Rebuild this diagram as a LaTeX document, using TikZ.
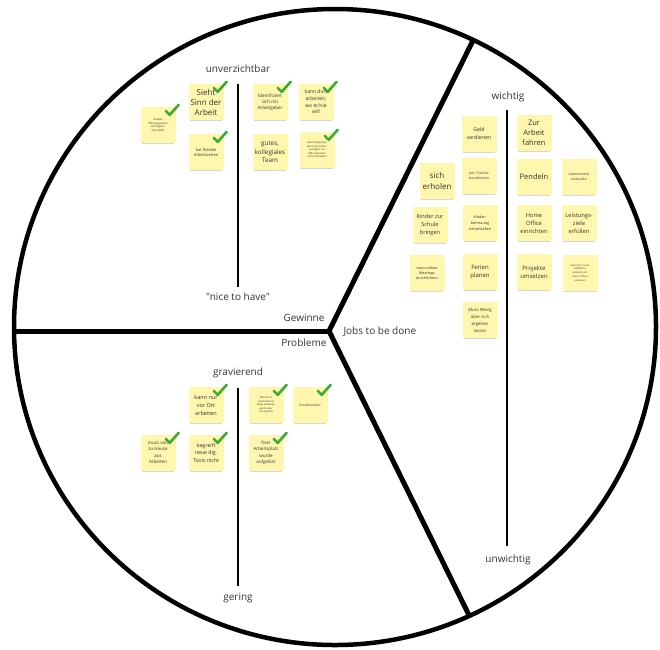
\documentclass[tikz,border=0pt]{standalone}
\usepackage{fontspec}
\setmainfont{Open Sans}[Ligatures=TeXOff]
\usetikzlibrary{shadows}
\definecolor{noteyellow}{HTML}{FFF7AE}
\definecolor{ink}{HTML}{333333}
\definecolor{okgreen}{HTML}{3DAA35}
% green tick in the upper right corner of a note
\newcommand\chk[1]{\draw[checkmark] ([shift={(-10,4)}]#1.north east) -- ++(4,4) -- ++(9,-10);}
\begin{document}
\begin{tikzpicture}[x=1pt,y=-1pt,
  note/.style={fill=noteyellow, minimum width=35pt, minimum height=36pt,
    inner sep=1pt, align=center, text=ink,
    general shadow={fill=black, opacity=0.16, shadow yshift=-3pt, shadow scale=0.92}},
  fs/.style 2 args={font=\fontsize{#1}{#2}\selectfont},
  lbl/.style={font=\fontsize{10}{12}\selectfont, text=ink},
  axis/.style={line width=1.3pt, black},
  rim/.style={line width=4.5pt, black},
  spoke/.style={line width=5pt, black},
  checkmark/.style={line width=2.6pt, okgreen, line cap=round, line join=round},
]
\useasboundingbox (0,0) rectangle (660,649);

% the circle and its three sectors
\coordinate (hub) at (329,331);
\begin{scope}
  \clip (335,327) ellipse [x radius=321, y radius=318];
  \draw[spoke] (hub) -- (0,331);
  \draw[spoke] (hub) -- (498,-10);
  \draw[spoke] (hub) -- (498,674);
\end{scope}
\draw[rim] (335,327) ellipse [x radius=321, y radius=318];

% sector titles
\node[lbl, anchor=east] (gew) at (328,318) {Gewinne};
\node[lbl, anchor=east] (prob) at (330,343) {Probleme};
\node[lbl, anchor=west] (jobs) at (340,332) {Jobs to be done};

% axes
\node[lbl] (unv) at (238,69) {unverzichtbar};
\node[lbl] (nice) at (238,297) {"nice to have"};
\draw[axis] (238,84) -- (238,287);
\node[lbl] (grav) at (238,373) {gravierend};
\node[lbl] (ger) at (238,598) {gering};
\draw[axis] (238,388) -- (238,586);
\node[lbl] (wich) at (508,97) {wichtig};
\node[lbl] (unw) at (508,560) {unwichtig};
\draw[axis] (507,110) -- (507,546);

% Gewinne
\node[note, fs={2.7}{3.9}] (n1) at (158,125) {flexible\\Öffnungszeiten\\wichtigster\\Geschäfte};
\node[note, fs={8}{10}] (n2) at (206,102) {Sieht\\Sinn der\\Arbeit};
\node[note, fs={4}{5}] (n3) at (206,152) {hat flexible\\Arbeitszeiten};
\node[note, fs={4.5}{6}] (n4) at (270,102) {Identifiziert\\sich mit\\Arbeitgeber};
\node[note, fs={5}{6.7}] (n5) at (316,102) {kann dort\\arbeiten,\\wo er/sie\\will};
\node[note, fs={6.3}{8.5}] (n6) at (270,152) {gutes,\\kollegiales\\Team};
\node[note, fs={2.5}{3.6}] (n7) at (317,150) {Behördengänge\\Bank sind online\\verfügbar, da\\Öffnungszeiten\\nicht praktikabel};

% Jobs to be done
\node[note, fs={5.3}{8}] (r1) at (479,134) {Geld\\verdienen};
\node[note, fs={7.5}{10}] (r2) at (534,133) {Zur\\Arbeit\\fahren};
\node[note, fs={8}{11}] (r3) at (437,181) {sich\\erholen};
\node[note, fs={3.4}{5}] (r4) at (479,176) {Job / Familie\\koordinieren};
\node[note, fs={7.5}{10}] (r5) at (534,177) {Pendeln};
\node[note, fs={3.4}{5}] (r6) at (579,177) {Lebensmittel\\einkaufen};
\node[note, fs={5.6}{8}] (r7) at (430,225) {Kinder zur\\Schule\\bringen};
\node[note, fs={3.8}{6}] (r8) at (480,223) {Kinder-\\betreuung\\sicherstellen};
\node[note, fs={5.8}{8}] (r9) at (534,223) {Home\\Office\\einrichten};
\node[note, fs={5.8}{8}] (r10) at (579,223) {Leistungs-\\ziele\\erfüllen};
\node[note, fs={3.7}{5}] (r11) at (427,273) {muss online\\Meetings\\durchführen};
\node[note, fs={6}{8}] (r12) at (480,272) {Ferien\\planen};
\node[note, fs={6}{8}] (r13) at (534,272) {Projekte\\umsetzen};
\node[note, fs={2.5}{3.7}] (r14) at (580,273) {Muss sich neuer\\Bildfläche\\(arbeiten im\\Home Office)\\anpassen};
\node[note, fs={4.3}{7}] (r15) at (480,320) {Muss Reorg\\über sich\\ergehen\\lassen};

% Probleme
\node[note, fs={5.5}{8}] (b1) at (206,405) {kann nur\\vor Ort\\arbeiten};
\node[note, fs={2.5}{3.6}] (b2) at (266,405) {Möchte im\\Unternehmen\\etwas bewirken,\\werde aber\\nicht gehört};
\node[note, fs={3.2}{4}] (b3) at (310,405) {Pendelverkehr};
\node[note, fs={4.5}{6.5}] (b4) at (158,453) {muss von\\zu Hause\\aus\\Arbeiten};
\node[note, fs={5.2}{7.5}] (b5) at (206,453) {begreift\\neue dig.\\Tools nicht};
\node[note, fs={4.5}{6.5}] (b6) at (266,453) {fixer\\Arbeitsplatz\\wurde\\aufgelöst};

% ticks
\chk{n1}\chk{n2}\chk{n3}\chk{n4}\chk{n5}\chk{n7}
\chk{b1}\chk{b2}\chk{b3}\chk{b4}\chk{b5}\chk{b6}
\end{tikzpicture}
\end{document}
